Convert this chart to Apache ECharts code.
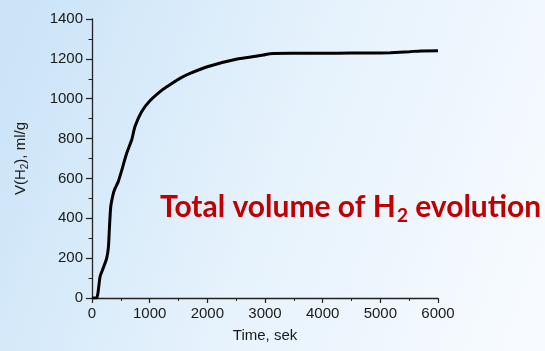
<!DOCTYPE html>
<html>
<head>
<meta charset="utf-8">
<script src="https://cdn.jsdelivr.net/npm/echarts@6/dist/echarts.min.js"></script>
<style>
  html, body { margin: 0; padding: 0; }
  #chart { width: 545px; height: 351px; }
</style>
</head>
<body>
<div id="chart"></div>
<script>
// Cumulative hydrogen evolution over time
const timeSec = [0, 80, 140, 195, 255, 285, 300, 325, 370, 400, 455, 515, 600, 690, 745, 860, 1005, 1235, 1350, 1525, 1700, 2045, 2500, 2970, 3085, 3450, 4000, 4500, 5000, 5170, 5500, 5700, 6000];
const volumeH2 = [0, 0, 107, 150, 200, 257, 340, 458, 525, 550, 584, 640, 725, 795, 860, 935, 990, 1048, 1070, 1102, 1127, 1164, 1198, 1219, 1226, 1228, 1228, 1229, 1230, 1231, 1236, 1240, 1241];
const xTicks = [0, 1000, 2000, 3000, 4000, 5000, 6000];
const yTicks = [0, 200, 400, 600, 800, 1000, 1200, 1400];

const points = timeSec.map((t, i) => [t, volumeH2[i]]);
const labelFont = 'Liberation Sans, Arial, sans-serif';
const axisColor = '#222';

const chart = echarts.init(document.getElementById('chart'));
chart.setOption({
  animation: false,
  backgroundColor: {
    type: 'linear', x: 0, y: 0.2, x2: 1, y2: 0.8,
    colorStops: [
      { offset: 0, color: '#cbe4f8' },
      { offset: 0.5, color: '#e6f2fc' },
      { offset: 1, color: '#f7fbff' }
    ]
  },
  title: {
    left: 155,
    top: 184,
    text: '{a|Total volume of H}{s|2}{a| evolution}',
    textStyle: {
      rich: {
        a: { fontFamily: 'Lato', fontWeight: 'bold', fontSize: 30, color: '#c00000' },
        s: { fontFamily: 'Lato', fontWeight: 'bold', fontSize: 19, color: '#c00000', padding: [17, 0, 0, 1] }
      }
    }
  },
  grid: { left: 92, right: 107, top: 19, bottom: 53 },
  xAxis: {
    type: 'value',
    min: 0, max: 6000, interval: 1000,
    name: 'Time, sek',
    nameLocation: 'middle',
    nameGap: 30,
    nameTextStyle: { fontFamily: labelFont, fontSize: 15, color: '#1a1a1a' },
    axisLine: { show: true, onZero: false, lineStyle: { color: axisColor, width: 1.3 } },
    axisTick: { show: true, inside: false, length: 5, lineStyle: { color: axisColor, width: 1.2 } },
    minorTick: { show: true, splitNumber: 2, length: 3, lineStyle: { color: axisColor, width: 1 } },
    splitLine: { show: false },
    axisLabel: {
      margin: 8, fontFamily: labelFont, fontSize: 15, color: '#1a1a1a',
      formatter: v => xTicks.includes(v) ? String(v) : ''
    }
  },
  yAxis: {
    type: 'value',
    min: 0, max: 1400, interval: 200,
    name: '{a|V(H}{s|2}{a|), ml/g}',
    nameLocation: 'middle',
    nameGap: 62,
    nameTextStyle: {
      rich: {
        a: { fontFamily: labelFont, fontSize: 15, color: '#1a1a1a' },
        s: { fontFamily: labelFont, fontSize: 10, color: '#1a1a1a', padding: [8, 0, 0, 0] }
      }
    },
    axisLine: { show: true, onZero: false, lineStyle: { color: axisColor, width: 1.3 } },
    axisTick: { show: true, inside: false, length: 6, lineStyle: { color: axisColor, width: 1.2 } },
    minorTick: { show: true, splitNumber: 2, length: 3.5, lineStyle: { color: axisColor, width: 1 } },
    splitLine: { show: false },
    axisLabel: {
      margin: 9, fontFamily: labelFont, fontSize: 15, color: '#1a1a1a',
      formatter: v => yTicks.includes(v) ? String(v) : ''
    }
  },
  series: [{
    type: 'line',
    data: points,
    showSymbol: false,
    smooth: 0.2,
    lineStyle: { color: '#000', width: 3 }
  }]
});
</script>
</body>
</html>
